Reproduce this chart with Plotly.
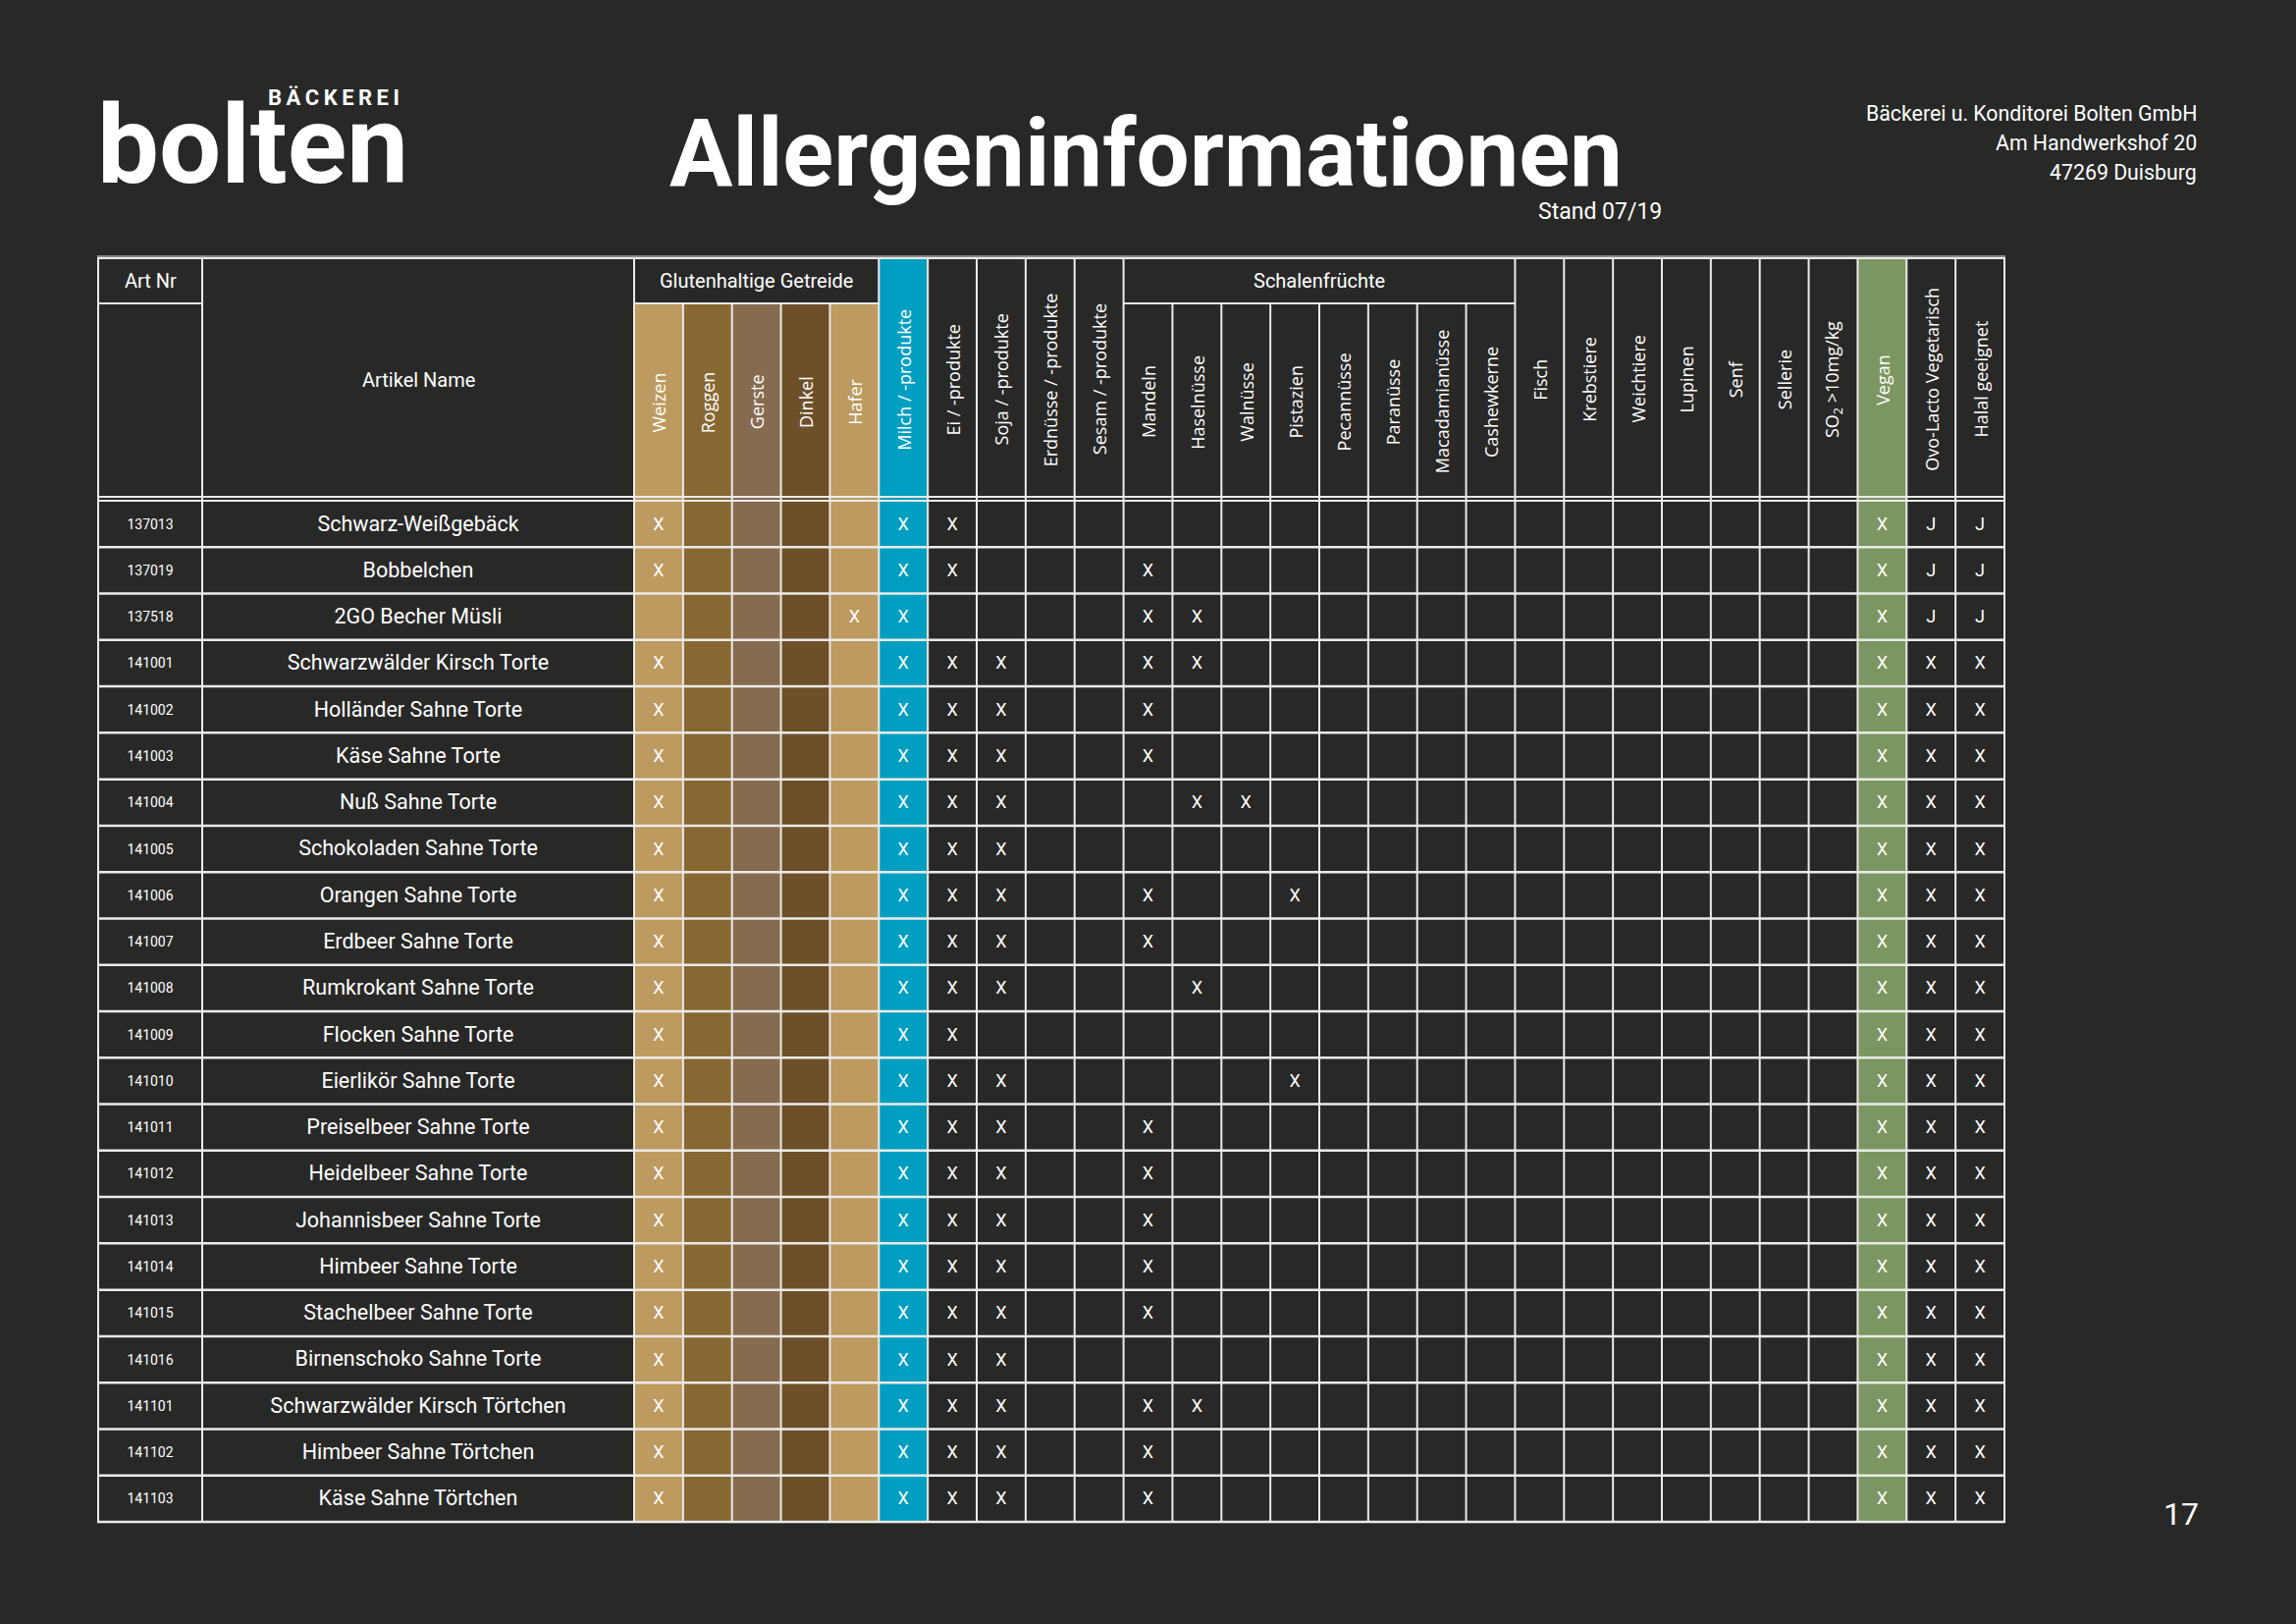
import plotly.graph_objects as go

# ---------------- data ----------------
art_nr = ["137013", "137019", "137518", "141001", "141002", "141003", "141004",
          "141005", "141006", "141007", "141008", "141009", "141010", "141011",
          "141012", "141013", "141014", "141015", "141016", "141101", "141102",
          "141103"]

names = ["Schwarz-Weißgebäck", "Bobbelchen", "2GO Becher Müsli",
         "Schwarzwälder Kirsch Torte", "Holländer Sahne Torte", "Käse Sahne Torte",
         "Nuß Sahne Torte", "Schokoladen Sahne Torte", "Orangen Sahne Torte",
         "Erdbeer Sahne Torte", "Rumkrokant Sahne Torte", "Flocken Sahne Torte",
         "Eierlikör Sahne Torte", "Preiselbeer Sahne Torte", "Heidelbeer Sahne Torte",
         "Johannisbeer Sahne Torte", "Himbeer Sahne Torte", "Stachelbeer Sahne Torte",
         "Birnenschoko Sahne Torte", "Schwarzwälder Kirsch Törtchen",
         "Himbeer Sahne Törtchen", "Käse Sahne Törtchen"]

header_labels = ["Weizen", "Roggen", "Gerste", "Dinkel", "Hafer",
                 "Milch / -produkte", "Ei / -produkte", "Soja / -produkte",
                 "Erdnüsse / -produkte", "Sesam / -produkte",
                 "Mandeln", "Haselnüsse", "Walnüsse", "Pistazien", "Pecannüsse",
                 "Paranüsse", "Macadamianüsse", "Cashewkerne",
                 "Fisch", "Krebstiere", "Weichtiere", "Lupinen", "Senf", "Sellerie",
                 "SO<sub>2</sub> &gt;10mg/kg",
                 "Vegan", "Ovo-Lacto Vegetarisch", "Halal geeignet"]

group_labels = ["Glutenhaltige Getreide", "Schalenfrüchte"]
group_first = [0, 10]
group_last = [4, 17]

# one string per article: cereals | milk..sesame | nuts | fish..SO2 | vegan/ovo/halal
marks = [
    "X....|XX...|........|.......|XJJ",
    "X....|XX...|X.......|.......|XJJ",
    "....X|X....|XX......|.......|XJJ",
    "X....|XXX..|XX......|.......|XXX",
    "X....|XXX..|X.......|.......|XXX",
    "X....|XXX..|X.......|.......|XXX",
    "X....|XXX..|.XX.....|.......|XXX",
    "X....|XXX..|........|.......|XXX",
    "X....|XXX..|X..X....|.......|XXX",
    "X....|XXX..|X.......|.......|XXX",
    "X....|XXX..|.X......|.......|XXX",
    "X....|XX...|........|.......|XXX",
    "X....|XXX..|...X....|.......|XXX",
    "X....|XXX..|X.......|.......|XXX",
    "X....|XXX..|X.......|.......|XXX",
    "X....|XXX..|X.......|.......|XXX",
    "X....|XXX..|X.......|.......|XXX",
    "X....|XXX..|X.......|.......|XXX",
    "X....|XXX..|........|.......|XXX",
    "X....|XXX..|XX......|.......|XXX",
    "X....|XXX..|X.......|.......|XXX",
    "X....|XXX..|X.......|.......|XXX",
]

address_lines = ["Bäckerei u. Konditorei Bolten GmbH", "Am Handwerkshof 20", "47269 Duisburg"]
title_text = "Allergeninformationen"
stand_text = "Stand 07/19"
page_no = "17"

# ---------------- style / geometry ----------------
W, H = 2339, 1654
BG = "#282827"
LINE = "#ebebeb"
NARROW = "Roboto, Lato, sans-serif"
HEAD = "Open Sans, Noto Sans, sans-serif"

col_colors = {0: "#bd9a5f", 1: "#876832", 2: "#866b4f", 3: "#6d5029",
              4: "#bd9a5f", 5: "#009ec0", 25: "#7b9660"}

TL, C1, C2, TR = 100, 206, 646, 2042
NCOL = len(header_labels)
CW = (TR - C2) / NCOL
TOP, SUB, HB, BOT = 263, 309, 510, 1550
NROW = len(names)
RH = (BOT - HB) / NROW


def in_group(k):
    return any(a <= k <= b for a, b in zip(group_first, group_last))


def col_x(k):
    return C2 + (k + 0.5) * CW


def row_y(i):
    return HB + (i + 0.5) * RH + 1.5


shapes = []
# coloured columns
for k, c in col_colors.items():
    y0 = SUB if in_group(k) else TOP
    shapes.append(dict(type="rect", xref="x", yref="y", x0=C2 + k * CW, x1=C2 + (k + 1) * CW,
                       y0=y0, y1=BOT, fillcolor=c, line=dict(width=0), layer="below"))


def hline(y, x0, x1, w=2):
    shapes.append(dict(type="line", xref="x", yref="y", x0=x0, x1=x1, y0=y, y1=y,
                       line=dict(color=LINE, width=w)))


def vline(x, y0, y1, w=2):
    shapes.append(dict(type="line", xref="x", yref="y", x0=x, x1=x, y0=y0, y1=y1,
                       line=dict(color=LINE, width=w)))


# horizontal lines
hline(TOP - 2, TL - 1, TR + 1, 1)
hline(TOP, TL - 1, TR + 1)
hline(SUB, TL, C1)
for a, b in zip(group_first, group_last):
    hline(SUB, C2 + a * CW, C2 + (b + 1) * CW)
hline(HB - 4, TL - 1, TR + 1)
hline(HB, TL - 1, TR + 1)
for i in range(1, NROW + 1):
    hline(HB + i * RH, TL - 1, TR + 1, 2.5)
# vertical lines
vline(TL, TOP, BOT)
vline(C1, TOP, BOT)
vline(C2, TOP, BOT)
for k in range(1, NCOL + 1):
    inside = any(a < k <= b for a, b in zip(group_first, group_last))
    vline(C2 + k * CW, SUB if inside else TOP, BOT)

annotations = []


def ann(text, x, y, size, family=NARROW, xanchor="center", angle=0, color="white", weight=None):
    f = dict(family=family, size=size, color=color)
    if weight:
        f["weight"] = weight
    annotations.append(dict(text=text, x=x, y=y, xref="x", yref="y", showarrow=False,
                            xanchor=xanchor, yanchor="middle", textangle=angle, font=f))


# page header
ann("bolten", 97, 147, 112, NARROW, "left", weight="bold")
ann("B\u2009Ä\u2009C\u2009K\u2009E\u2009R\u2009E\u2009I", 340, 99, 22, NARROW, weight="bold")
ann(title_text, 1167, 156, 96, NARROW, weight="bold")
ann(stand_text, 1695, 215, 23, NARROW, "right")
for j, line in enumerate(address_lines):
    ann(line, 2240, 115 + 30 * j, 21.3, NARROW, "right")
ann(page_no, 2222, 1542, 32)

# table header
ann("Art Nr", (TL + C1) / 2, (TOP + SUB) / 2, 20)
ann("Artikel Name", (C1 + C2) / 2, (TOP + HB) / 2, 20)
for lab, a, b in zip(group_labels, group_first, group_last):
    ann(lab, C2 + (a + b + 1) / 2 * CW, (TOP + SUB) / 2, 20)
for k, lab in enumerate(header_labels):
    yc = (SUB + HB) / 2 if in_group(k) else (TOP + HB) / 2
    ann(lab, col_x(k), yc, 18, HEAD, angle=-90)

# marks
mx, my, mt = [], [], []
for i, row in enumerate(marks):
    cells = row.replace("|", "")
    for k, ch in enumerate(cells):
        if ch != ".":
            mx.append(col_x(k))
            my.append(row_y(i))
            mt.append(ch)

fig = go.Figure()
fig.add_trace(go.Scatter(x=[(TL + C1) / 2] * NROW, y=[row_y(i) for i in range(NROW)],
                         text=art_nr, mode="text", textposition="middle center",
                         textfont=dict(family=NARROW, size=14, color="white"), hoverinfo="skip"))
fig.add_trace(go.Scatter(x=[(C1 + C2) / 2] * NROW, y=[row_y(i) for i in range(NROW)],
                         text=names, mode="text", textposition="middle center",
                         textfont=dict(family=NARROW, size=21.5, color="white"), hoverinfo="skip"))
fig.add_trace(go.Scatter(x=mx, y=my, text=mt, mode="text", textposition="middle center",
                         textfont=dict(family=NARROW, size=18, color="white"), hoverinfo="skip"))

fig.update_layout(
    width=W, height=H, autosize=False,
    margin=dict(l=0, r=0, t=0, b=0, pad=0),
    paper_bgcolor=BG, plot_bgcolor=BG,
    showlegend=False,
    xaxis=dict(range=[0, W], visible=False, fixedrange=True),
    yaxis=dict(range=[H, 0], visible=False, fixedrange=True),
    shapes=shapes, annotations=annotations,
)

fig.write_html("out.html", config={"displayModeBar": False},
               post_script="document.body.style.margin='0';document.body.style.background='#282827';document.body.style.overflow='hidden';")
